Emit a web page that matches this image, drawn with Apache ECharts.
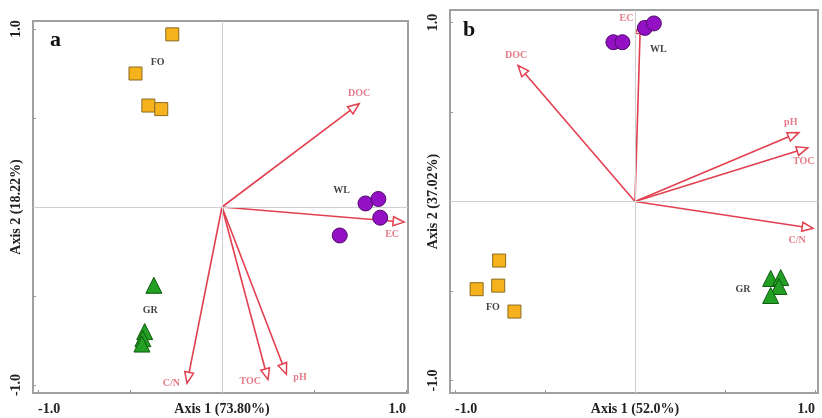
<!DOCTYPE html>
<html>
<head>
<meta charset="utf-8">
<script src="https://cdn.jsdelivr.net/npm/echarts@6/dist/echarts.min.js"></script>
<style>html,body{margin:0;padding:0;background:#fff}#c{width:822px;height:418px}</style>
</head>
<body>
<div id="c"></div>
<script>
// ---------- Panel a data ----------
const foA = [[-0.27, 0.97], [-0.47, 0.75], [-0.40, 0.57], [-0.33, 0.55]];
const wlA = [[0.78, 0.02], [0.85, 0.045], [0.86, -0.06], [0.64, -0.16]];
const grA = [[-0.37, -0.44], [-0.42, -0.70], [-0.43, -0.74], [-0.435, -0.77]];
const varNames = ['DOC', 'EC', 'C/N', 'TOC', 'pH'];
const varA = [[0.745, 0.58], [0.99, -0.085], [-0.19, -0.99], [0.25, -0.97], [0.35, -0.94]];
const groupNames = ['FO', 'WL', 'GR'];
const groupLabelA = [[-0.35, 0.81], [0.65, 0.095], [-0.39, -0.58]];
const axisTitleA = ['Axis 1 (73.80%)', 'Axis 2 (18.22%)'];

// ---------- Panel b data ----------
const foB = [[-0.755, -0.33], [-0.76, -0.47], [-0.88, -0.49], [-0.67, -0.615]];
const wlB = [[-0.12, 0.89], [-0.07, 0.89], [0.055, 0.97], [0.105, 0.995]];
const grB = [[0.754, -0.43], [0.81, -0.425], [0.80, -0.475], [0.754, -0.525]];
const varB = [[-0.65, 0.76], [0.03, 1.0], [0.99, -0.15], [0.96, 0.30], [0.91, 0.385]];
const groupLabelB = [[-0.79, -0.59], [0.13, 0.85], [0.60, -0.49]];
const axisTitleB = ['Axis 1 (52.0%)', 'Axis 2 (37.02%)'];

const tickVals = [-1, -0.5, 0, 0.5, 1];
const labelVals = [-1, 0, 1];

// ---------- styles ----------
const RED = '#e2404f';
const LBL_RED = '#dd5a6c';
const SERIF = '"Liberation Serif", "DejaVu Serif", serif';

// label placement per variable (style only)
const varLabelStyleA = {
  'DOC': {position: 'top', offset: [0, 0]},
  'EC': {position: 'bottom', offset: [-12, 2]},
  'C/N': {position: 'left', offset: [-2, 0]},
  'TOC': {position: 'left', offset: [-2, 2]},
  'pH': {position: 'right', offset: [2, 3]}
};
const varLabelStyleB = {
  'DOC': {position: 'top', offset: [-2, 0]},
  'EC': {position: 'left', offset: [-2, -4]},
  'C/N': {position: 'bottom', offset: [-16, 2]},
  'TOC': {position: 'bottom', offset: [-4, 4]},
  'pH': {position: 'top', offset: [-8, 0]}
};

function renderArrow(params, api) {
  const p0 = api.coord([0, 0]);
  const p1 = api.coord([api.value(0), api.value(1)]);
  const dx = p1[0] - p0[0], dy = p1[1] - p0[1];
  const L = Math.hypot(dx, dy) || 1;
  const ux = dx / L, uy = dy / L;
  const hl = 11, hw = 4.5;
  const base = [p1[0] - ux * hl, p1[1] - uy * hl];
  const left = [base[0] - uy * hw, base[1] + ux * hw];
  const right = [base[0] + uy * hw, base[1] - ux * hw];
  return {
    type: 'group',
    children: [
      {type: 'line', shape: {x1: p0[0], y1: p0[1], x2: base[0], y2: base[1]},
       style: {stroke: RED, lineWidth: 1.6}},
      {type: 'polygon', shape: {points: [p1, left, right]},
       style: {fill: '#fff', stroke: RED, lineWidth: 1.5}}
    ]
  };
}

function axisPair(idx, xr, yr, titles) {
  const xa = {
    type: 'value', gridIndex: idx, min: xr[0], max: xr[1],
    axisLine: {show: false, onZero: false},
    splitLine: {show: false},
    axisTick: {show: true, inside: true, length: 3, customValues: tickVals,
               lineStyle: {color: '#999', width: 1}},
    axisLabel: {
      customValues: labelVals, margin: 9,
      fontFamily: SERIF, fontWeight: 'bold', fontSize: 14, color: '#222',
      alignMinLabel: 'left', alignMaxLabel: 'right',
      formatter: v => v === -1 ? '-1.0' : (v === 1 ? '1.0' : titles[0])
    }
  };
  const ya = {
    type: 'value', gridIndex: idx, min: yr[0], max: yr[1],
    axisLine: {show: false, onZero: false},
    splitLine: {show: false},
    axisTick: {show: true, inside: true, length: 3, customValues: tickVals,
               lineStyle: {color: '#999', width: 1}},
    axisLabel: {
      customValues: labelVals, margin: 10, rotate: 90,
      fontFamily: SERIF, fontWeight: 'bold', fontSize: 14, color: '#222',
      formatter: v => v === -1 ? '-1.0' : (v === 1 ? '1.0' : titles[1])
    }
  };
  return [xa, ya];
}

function groupSeries(idx, data, symbol, size, fill, border) {
  return {
    type: 'scatter', xAxisIndex: idx, yAxisIndex: idx, data: data,
    symbol: symbol, symbolSize: size, z: 5,
    itemStyle: {color: fill, borderColor: border, borderWidth: 1, opacity: 1}
  };
}

function panelSeries(idx, fo, wl, gr, vars, labelStyle, gLabels, sizes) {
  const s = [];
  // center cross lines
  s.push({
    type: 'scatter', xAxisIndex: idx, yAxisIndex: idx, data: [], z: 1,
    markLine: {
      silent: true, symbol: 'none', label: {show: false},
      lineStyle: {color: '#cfcfcf', width: 1, type: 'solid'},
      data: [{xAxis: 0}, {yAxis: 0}]
    }
  });
  s.push({
    type: 'custom', xAxisIndex: idx, yAxisIndex: idx, z: 3,
    renderItem: renderArrow, encode: {x: 0, y: 1},
    data: vars.map((v, i) => [v[0], v[1], varNames[i]])
  });
  s.push({
    type: 'scatter', xAxisIndex: idx, yAxisIndex: idx, z: 6, symbolSize: 0,
    data: vars.map((v, i) => ({
      value: v, name: varNames[i],
      label: {show: true, formatter: varNames[i],
              position: labelStyle[varNames[i]].position,
              offset: labelStyle[varNames[i]].offset,
              fontFamily: SERIF, fontWeight: 'bold', fontSize: 10, color: LBL_RED}
    }))
  });
  s.push(groupSeries(idx, fo, 'rect', sizes[0], '#f5b21c', '#8a6a20'));
  s.push(groupSeries(idx, wl, 'circle', sizes[1], '#9410c4', '#4f0a6a'));
  s.push(groupSeries(idx, gr, 'triangle', sizes[2], '#23a023', '#0e5a0e'));
  s.push({
    type: 'scatter', xAxisIndex: idx, yAxisIndex: idx, z: 7, symbolSize: 0,
    data: gLabels.map((p, i) => ({
      value: p, name: groupNames[i],
      label: {show: true, formatter: groupNames[i], position: 'inside',
              fontFamily: SERIF, fontWeight: 'bold', fontSize: 10, color: '#111'}
    }))
  });
  return s;
}

const [xa0, ya0] = axisPair(0, [-1.027, 1.011], [-1.045, 1.045], axisTitleA);
const [xa1, ya1] = axisPair(1, [-1.028, 1.017], [-1.07, 1.07], axisTitleB);

const chart = echarts.init(document.getElementById('c'), null, {renderer: 'canvas'});
chart.setOption({
  backgroundColor: '#fff',
  animation: false,
  grid: [
    {left: 33, top: 21, width: 375, height: 372, show: true, borderColor: '#a0a0a0', borderWidth: 2, backgroundColor: 'transparent'},
    {left: 450, top: 10, width: 368, height: 383, show: true, borderColor: '#a0a0a0', borderWidth: 2, backgroundColor: 'transparent'}
  ],
  xAxis: [xa0, xa1],
  yAxis: [ya0, ya1],
  title: [
    {text: 'a', left: 45, top: 24, textStyle: {fontFamily: SERIF, fontWeight: 'bold', fontSize: 22, color: '#111'}},
    {text: 'b', left: 458, top: 14, textStyle: {fontFamily: SERIF, fontWeight: 'bold', fontSize: 22, color: '#111'}}
  ],
  series: [
    ...panelSeries(0, foA, wlA, grA, varA, varLabelStyleA, groupLabelA, [13, 15, 16]),
    ...panelSeries(1, foB, wlB, grB, varB, varLabelStyleB, groupLabelB, [13, 15, 16])
  ]
});
</script>
</body>
</html>
